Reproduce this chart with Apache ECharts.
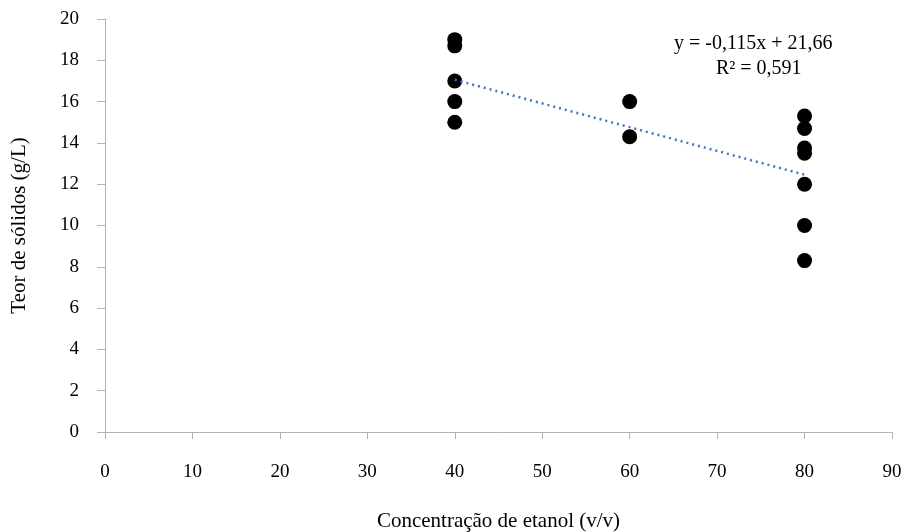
<!DOCTYPE html>
<html>
<head>
<meta charset="utf-8">
<script src="https://cdn.jsdelivr.net/npm/echarts@6/dist/echarts.min.js"></script>
<style>
  html, body { margin: 0; padding: 0; background: #fff; }
  #chart { width: 904px; height: 532px; }
</style>
</head>
<body>
<div id="chart"></div>
<script>
const xTicks = [0, 10, 20, 30, 40, 50, 60, 70, 80, 90];
const yTicks = [0, 2, 4, 6, 8, 10, 12, 14, 16, 18, 20];

// observed points: ethanol concentration vs solids content
const etanol = [40, 40, 40, 40, 40, 60, 60, 80, 80, 80, 80, 80, 80, 80];
const solidos = [19.0, 18.7, 17.0, 16.0, 15.0, 16.0, 14.3, 15.3, 14.7, 13.75, 13.5, 12.0, 10.0, 8.3];

// linear trend line ends as drawn
const trendX = [40, 80];
const trendY = [17.06, 12.46];

const equation = 'y = -0,115x + 21,66';
const r2 = 'R² = 0,591';

const font = 'Liberation Serif';
const chart = echarts.init(document.getElementById('chart'));

const points = etanol.map((x, i) => [x, solidos[i]]);
const trend = trendX.map((x, i) => [x, trendY[i]]);

chart.setOption({
    animation: false,
    textStyle: { fontFamily: font },
    grid: { left: 105, right: 12, top: 19, bottom: 100, containLabel: false, outerBoundsMode: 'none' },
    xAxis: {
        type: 'value',
        min: xTicks[0],
        max: xTicks[xTicks.length - 1],
        interval: 10,
        name: 'Concentração de etanol (v/v)',
        nameLocation: 'middle',
        nameGap: 79,
        nameTextStyle: { fontFamily: font, fontSize: 21, color: '#000' },
        axisLine: { lineStyle: { color: '#b3b3b3' } },
        axisTick: { show: true, length: 7, lineStyle: { color: '#b3b3b3' } },
        axisLabel: { fontFamily: font, fontSize: 19, color: '#000', margin: 31 },
        splitLine: { show: false }
    },
    yAxis: {
        type: 'value',
        min: yTicks[0],
        max: yTicks[yTicks.length - 1],
        interval: 2,
        name: 'Teor de sólidos (g/L)',
        nameLocation: 'middle',
        nameGap: 75,
        nameTextStyle: { fontFamily: font, fontSize: 21, color: '#000' },
        axisLine: { show: true, lineStyle: { color: '#b3b3b3' } },
        axisTick: { show: true, length: 8, lineStyle: { color: '#b3b3b3' } },
        axisLabel: { fontFamily: font, fontSize: 19, color: '#000', margin: 26 },
        splitLine: { show: false }
    },
    series: [
        {
            type: 'scatter',
            data: points,
            symbolSize: 15,
            itemStyle: { color: '#000', opacity: 1 },
            z: 2
        },
        {
            type: 'line',
            data: trend,
            symbol: 'none',
            lineStyle: { color: '#4472c4', width: 2.5, type: [2, 4] },
            z: 3
        }
    ],
    graphic: [
        {
            type: 'text',
            left: 674,
            top: 34,
            style: { text: equation, font: '20px "Liberation Serif"', fill: '#000' }
        },
        {
            type: 'text',
            left: 716,
            top: 59,
            style: { text: r2, font: '20px "Liberation Serif"', fill: '#000' }
        }
    ]
});
</script>
</body>
</html>
